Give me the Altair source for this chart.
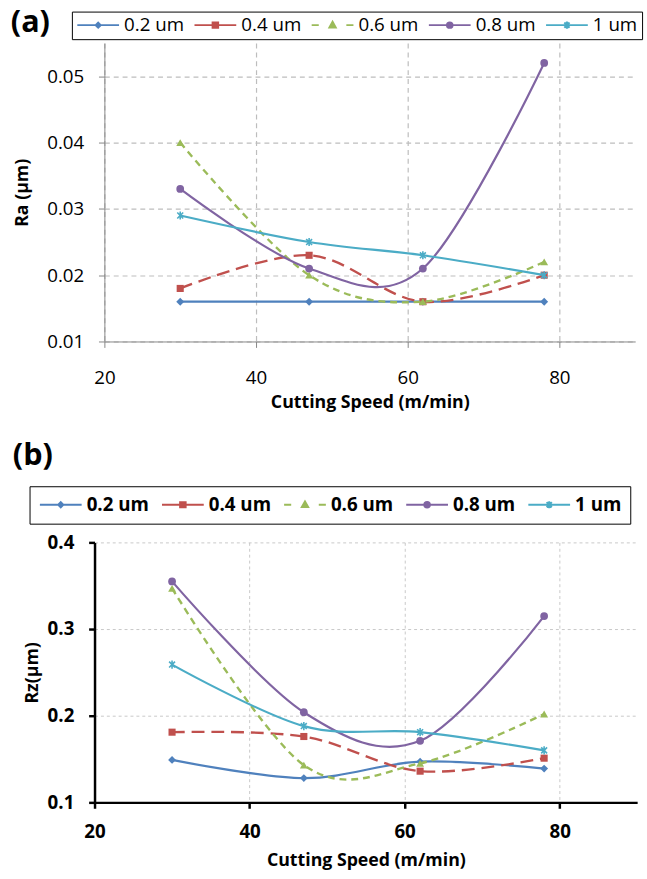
import altair as alt
import pandas as pd

# ---------------- data ----------------
speeds = [30, 47, 62, 78]
series = ["0.2 um", "0.4 um", "0.6 um", "0.8 um", "1 um"]

ra_02 = [0.016, 0.016, 0.016, 0.016]
ra_04 = [0.018, 0.023, 0.016, 0.020]
ra_06 = [0.040, 0.020, 0.016, 0.022]
ra_08 = [0.033, 0.021, 0.021, 0.052]
ra_10 = [0.029, 0.025, 0.023, 0.020]

rz_02 = [0.149, 0.128, 0.147, 0.139]
rz_04 = [0.181, 0.176, 0.136, 0.151]
rz_06 = [0.347, 0.143, 0.145, 0.202]
rz_08 = [0.355, 0.204, 0.171, 0.315]
rz_10 = [0.259, 0.188, 0.181, 0.160]

x_ticks = [20, 40, 60, 80]
ra_ticks = [0.01, 0.02, 0.03, 0.04, 0.05]
rz_ticks = [0.1, 0.2, 0.3, 0.4]

# ---------------- styles ----------------
colors = ["#4F81BD", "#C0504D", "#9BBB59", "#8064A2", "#4BACC6"]
FONT = "Open Sans"
ASTERISK = "M-0.8,-0.8L0.8,0.8M-0.8,0.8L0.8,-0.8M0,-1.1V1.1"
line_styles = [
    dict(strokeWidth=2.2),
    dict(strokeWidth=2.4, strokeDash=[13, 7]),
    dict(strokeWidth=2.4, strokeDash=[7, 5]),
    dict(strokeWidth=2.2),
    dict(strokeWidth=2.2),
]
point_styles = [
    dict(shape="diamond", filled=True, size=64),
    dict(shape="square", filled=True, size=52),
    dict(shape="triangle-up", filled=True, size=64),
    dict(shape="circle", filled=True, size=62),
    dict(shape=ASTERISK, filled=False, size=56, strokeWidth=1.6),
]
# legend symbols: unit = 8 px, path spans ~42 px, marker centred
legend_paths = [
    "M-1,0H4.3M1.65,-0.32L1.97,0L1.65,0.32L1.33,0Z",
    "M-1,0H4.3M1.3,-0.33H2.0V0.33H1.3Z",
    "M-1,0H-0.1M3.4,0H4.3M1.65,-0.42L2.05,0.3L1.25,0.3Z",
    "M-1,0H4.3M1.3,0A0.35,0.35 0 1,0 2.0,0A0.35,0.35 0 1,0 1.3,0Z",
    "M-1,0H4.3M1.32,-0.33L1.98,0.33M1.32,0.33L1.98,-0.33M1.65,-0.45V0.45",
]


def long_df(vals):
    rows = []
    for s, v in zip(series, vals):
        for x, y in zip(speeds, v):
            rows.append({"series": s, "speed": x, "value": y})
    return pd.DataFrame(rows)


def panel(vals, label, ydomain, yticks, yfmt, ytitle, width, height, xrange, yoffset, bold,
          label_pos, legend_pos, legend_pad, legend_colpad,
          axis_color, axis_width, grid_color, grid_dash, grid_width,
          x_lab_pad, x_title_pad, y_title_pad):
    df = long_df(vals)
    weight = "bold" if bold else "normal"
    x_enc = alt.X(
        "speed:Q",
        scale=alt.Scale(domain=[20, 90], range=xrange, nice=False, zero=False),
        axis=alt.Axis(
            values=x_ticks, format="d", title="Cutting Speed (m/min)",
            labelFont=FONT, labelFontSize=19, labelColor="black", labelFontWeight=weight,
            labelFlush=False, labelPadding=x_lab_pad,
            titleFont=FONT, titleFontSize=18, titleFontWeight="bold", titleColor="black",
            titlePadding=x_title_pad,
            domainColor=axis_color, domainWidth=axis_width,
            tickColor=axis_color, tickWidth=axis_width, tickSize=6,
            grid=True, gridColor=grid_color, gridDash=grid_dash, gridWidth=grid_width,
        ),
    )
    y_enc = alt.Y(
        "value:Q",
        scale=alt.Scale(domain=ydomain, nice=False, zero=False),
        axis=alt.Axis(
            values=yticks, format=yfmt, title=ytitle, offset=yoffset,
            labelFont=FONT, labelFontSize=19, labelColor="black", labelFontWeight=weight,
            labelPadding=15, labelFlush=False,
            titleFont=FONT, titleFontSize=18, titleFontWeight="bold", titleColor="black",
            titlePadding=y_title_pad,
            domainColor=axis_color, domainWidth=axis_width,
            tickColor=axis_color, tickWidth=axis_width, tickSize=6,
            grid=True, gridColor=grid_color, gridDash=grid_dash, gridWidth=grid_width,
        ),
    )
    base = alt.Chart(df)
    layers = []
    for i, s in enumerate(series):
        sub = base.transform_filter(alt.datum.series == s)
        layers.append(
            sub.mark_line(interpolate="cardinal", color=colors[i], **line_styles[i])
            .encode(x=x_enc, y=y_enc)
        )
        layers.append(
            sub.mark_point(color=colors[i], opacity=1, **point_styles[i])
            .encode(x=x_enc, y=y_enc)
        )

    leg = alt.Legend(
        orient="none", legendX=legend_pos[0], legendY=legend_pos[1],
        direction="horizontal", columns=5, title=None,
        strokeColor="black", fillColor="white", padding=legend_pad,
        labelFont=FONT, labelFontSize=19, labelFontWeight=weight, labelColor="black",
        labelOffset=30, columnPadding=legend_colpad, labelLimit=0,
        symbolSize=256, symbolStrokeWidth=2, symbolOpacity=1,
    )
    legend_layer = (
        alt.Chart(pd.DataFrame({"series": series}))
        .transform_filter("false")
        .mark_point(filled=True, opacity=1, size=256)
        .encode(
            fill=alt.Fill("series:N", scale=alt.Scale(domain=series, range=colors), legend=leg),
            stroke=alt.Stroke("series:N", scale=alt.Scale(domain=series, range=colors), legend=leg),
            shape=alt.Shape("series:N", scale=alt.Scale(domain=series, range=legend_paths), legend=leg),
        )
    )
    text_layer = (
        alt.Chart(pd.DataFrame({"t": [label]}))
        .mark_text(align="left", baseline="middle", font=FONT, fontSize=31, fontWeight="bold", color="black")
        .encode(text="t:N", x=alt.value(label_pos[0]), y=alt.value(label_pos[1]))
    )
    return alt.layer(*layers, legend_layer, text_layer).properties(width=width, height=height)


chart_a = panel(
    [ra_02, ra_04, ra_06, ra_08, ra_10], "(a)", [0.01, 0.055], ra_ticks, ".2f", "Ra (µm)",
    539, 303, [0, 539], 0, False, (-95, -20), (-33, -32), 4, 6,
    "#868686", 1, "#bdbdbd", [5, 4], 1.2, 22, 6, 15,
)
chart_b = panel(
    [rz_02, rz_04, rz_06, rz_08, rz_10], "(b)", [0.1, 0.4], rz_ticks, ".1f", "Rz(µm)",
    541, 264, [-10, 541], 10, True, (-93, -88), (-76, -57), 9, 8,
    "black", 2.5, "#c8c8c8", [3, 3], 1, 15, 10, 6,
)

chart = (
    alt.concat(chart_a, chart_b, columns=1, align="none", spacing=29)
    .resolve_scale(fill="independent", stroke="independent", shape="independent")
    .resolve_legend(fill="independent", stroke="independent", shape="independent")
    .configure(padding={"left": 11, "top": 1, "right": 0, "bottom": 0}, font=FONT)
    .configure_view(strokeWidth=0)
)

chart.save("out.html", embed_options={"renderer": "svg", "actions": False})
